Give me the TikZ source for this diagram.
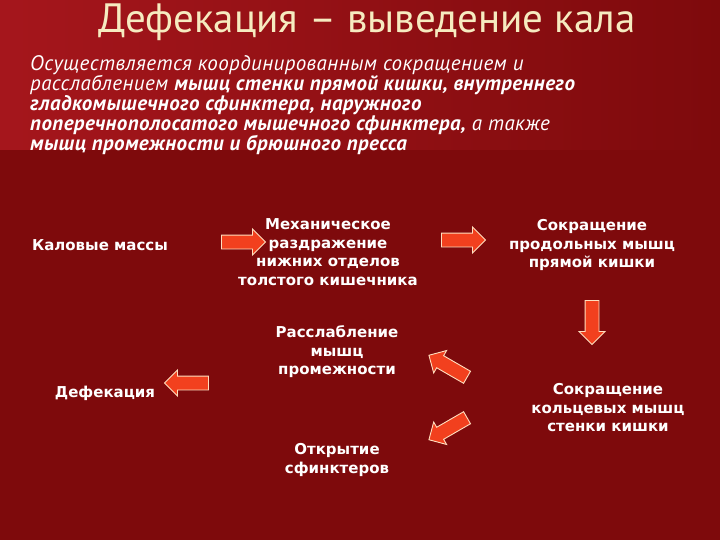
\documentclass[tikz,border=0pt]{standalone}
\usepackage{fontspec}
\setmainfont{DejaVu Sans}
\newfontfamily\ptsans{PT Sans}
\newfontfamily\ptwide[LetterSpace=2]{PT Sans}
\usetikzlibrary{shapes.arrows,shadows}
\definecolor{bgdark}{HTML}{7E0A0C}
\definecolor{bgtop}{HTML}{A5161C}
\definecolor{titlecol}{HTML}{F6EBC0}
\definecolor{arrowcol}{HTML}{F2401E}
\tikzset{
  lbl/.style={text=white, align=center, font=\bfseries\fontsize{15}{18.5}\selectfont},
  blockarrow/.style={single arrow, draw=white!75!orange, line width=0.9pt, fill=arrowcol,
    minimum height=44pt, inner xsep=0pt, inner ysep=6.5pt, single arrow head extend=6pt,
    single arrow tip angle=90},
}
\begin{document}
\begin{tikzpicture}[x=1pt,y=-1pt]
\useasboundingbox (0,0) rectangle (720,540);
\fill[bgdark] (0,0) rectangle (720,540);
\shade[left color=bgtop, right color=bgdark] (0,0) rectangle (720,150);
\node[text=titlecol, font=\ptsans\fontsize{41}{44}\selectfont] (title) at (367,22) {Дефекация – выведение кала};
\node[anchor=north west, text=white, align=left, font=\ptwide\itshape\fontsize{21}{20}\selectfont, inner sep=0pt] (para) at (30,55)
 {Осуществляется координированным сокращением и\\
  расслаблением \textbf{мышц стенки прямой кишки, внутреннего}\\
  \textbf{гладкомышечного сфинктера, наружного}\\
  \textbf{поперечнополосатого мышечного сфинктера,} а также\\
  \textbf{мышц промежности и брюшного пресса}};
\node[lbl] (kal) at (100,245) {Каловые массы};
\node[lbl] (meh) at (328,252) {Механическое\\раздражение\\нижних отделов\\толстого кишечника};
\node[lbl] (prod) at (592,245) {Сокращение\\продольных мышц\\прямой кишки};
\node[lbl] (rass) at (337,352) {Расслабление\\мышц\\промежности};
\node[lbl] (def) at (105,393) {Дефекация};
\node[lbl] (otkr) at (337,460) {Открытие\\сфинктеров};
\node[lbl] (kolc) at (608,408) {Сокращение\\кольцевых мышц\\стенки кишки};
\node[blockarrow] (a1) at (240,242) {};
\node[blockarrow] (a2) at (460,240) {};
\node[blockarrow, rotate=-90] (a3) at (592,319) {};
\node[blockarrow, rotate=150] (a4) at (451,368) {};
\node[blockarrow, rotate=210] (a5) at (451,427) {};
\node[blockarrow, rotate=180] (a6) at (190,383) {};
\end{tikzpicture}
\end{document}
